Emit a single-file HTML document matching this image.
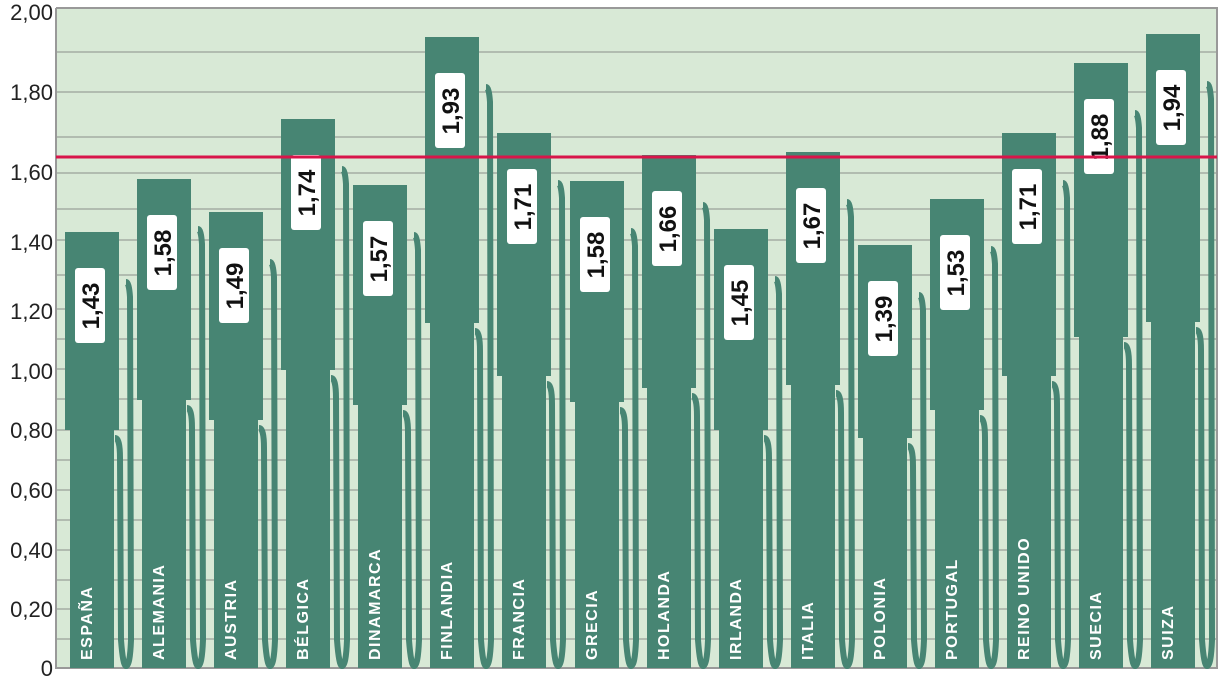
<!DOCTYPE html>
<html><head><meta charset="utf-8"><style>
html,body{margin:0;padding:0;background:#fff;}
svg{display:block;}
.ax{font:22px "Liberation Sans",sans-serif;fill:#222;}
.v{font:bold 24px "Liberation Sans",sans-serif;fill:#111;}
.n{font:bold 16px "Liberation Sans",sans-serif;fill:#fff;letter-spacing:1.5px;}
.c{stroke:#478573;stroke-width:6;fill:none;}
.b{fill:#478573;}
</style></head><body>
<svg width="1221" height="677" xmlns="http://www.w3.org/2000/svg">
<rect x="56" y="8" width="1161" height="660" fill="#d8e9d6"/>
<g stroke="#8a8f8a" stroke-width="1">
<line x1="56" x2="1217" y1="52" y2="52"/><line x1="56" x2="1217" y1="92" y2="92"/><line x1="56" x2="1217" y1="137" y2="137"/>
<line x1="56" x2="1217" y1="173" y2="173"/><line x1="56" x2="1217" y1="209" y2="209"/><line x1="56" x2="1217" y1="240" y2="240"/>
<line x1="56" x2="1217" y1="275" y2="275"/><line x1="56" x2="1217" y1="309" y2="309"/><line x1="56" x2="1217" y1="339" y2="339"/>
<line x1="56" x2="1217" y1="369" y2="369"/><line x1="56" x2="1217" y1="399" y2="399"/><line x1="56" x2="1217" y1="430" y2="430"/>
<line x1="56" x2="1217" y1="460" y2="460"/><line x1="56" x2="1217" y1="490" y2="490"/><line x1="56" x2="1217" y1="520" y2="520"/>
<line x1="56" x2="1217" y1="550" y2="550"/><line x1="56" x2="1217" y1="580" y2="580"/><line x1="56" x2="1217" y1="609" y2="609"/>
<line x1="56" x2="1217" y1="639" y2="639"/>
</g>
<path d="M56 8 V668 H1217 V8 H56" stroke="#999" stroke-width="2" fill="none"/>
<g text-anchor="end">
<text class="ax" x="53" y="20">2,00</text><text class="ax" x="53" y="100">1,80</text><text class="ax" x="53" y="180">1,60</text>
<text class="ax" x="53" y="250">1,40</text><text class="ax" x="53" y="319">1,20</text><text class="ax" x="53" y="379">1,00</text>
<text class="ax" x="53" y="438">0,80</text><text class="ax" x="53" y="498">0,60</text><text class="ax" x="53" y="558">0,40</text>
<text class="ax" x="53" y="617">0,20</text><text class="ax" x="53" y="676">0</text>
</g>

<g transform="translate(65,0)"><path class="c" d="M50 438 Q55 438 55 458 L56 640 Q58 666 61 666 Q65 666 66 640 L65 297 Q64 282 61 282"/><rect class="b" x="5" y="430" width="44" height="238"/><rect class="b" x="0" y="232" width="54" height="198"/><rect x="10" y="268" width="30" height="75" rx="3" fill="#fff"/><text class="v" text-anchor="middle" transform="translate(34,306) rotate(-90)">1,43</text><text class="n" transform="translate(27,660) rotate(-90)">ESPAÑA</text></g>

<g transform="translate(137,0)"><path class="c" d="M50 408 Q55 408 55 428 L56 640 Q58 666 61 666 Q65 666 66 640 L65 244 Q64 229 61 229"/><rect class="b" x="5" y="400" width="44" height="268"/><rect class="b" x="0" y="179" width="54" height="221"/><rect x="10" y="215" width="30" height="75" rx="3" fill="#fff"/><text class="v" text-anchor="middle" transform="translate(34,253) rotate(-90)">1,58</text><text class="n" transform="translate(27,660) rotate(-90)">ALEMANIA</text></g>

<g transform="translate(209,0)"><path class="c" d="M50 428 Q55 428 55 448 L56 640 Q58 666 61 666 Q65 666 66 640 L65 277 Q64 262 61 262"/><rect class="b" x="5" y="420" width="44" height="248"/><rect class="b" x="0" y="212" width="54" height="208"/><rect x="10" y="248" width="30" height="75" rx="3" fill="#fff"/><text class="v" text-anchor="middle" transform="translate(34,286) rotate(-90)">1,49</text><text class="n" transform="translate(27,660) rotate(-90)">AUSTRIA</text></g>

<g transform="translate(281,0)"><path class="c" d="M50 378 Q55 378 55 398 L56 640 Q58 666 61 666 Q65 666 66 640 L65 184 Q64 169 61 169"/><rect class="b" x="5" y="370" width="44" height="298"/><rect class="b" x="0" y="119" width="54" height="251"/><rect x="10" y="155" width="30" height="75" rx="3" fill="#fff"/><text class="v" text-anchor="middle" transform="translate(34,193) rotate(-90)">1,74</text><text class="n" transform="translate(27,660) rotate(-90)">BÉLGICA</text></g>

<g transform="translate(353,0)"><path class="c" d="M50 413 Q55 413 55 433 L56 640 Q58 666 61 666 Q65 666 66 640 L65 250 Q64 235 61 235"/><rect class="b" x="5" y="405" width="44" height="263"/><rect class="b" x="0" y="185" width="54" height="220"/><rect x="10" y="221" width="30" height="75" rx="3" fill="#fff"/><text class="v" text-anchor="middle" transform="translate(34,259) rotate(-90)">1,57</text><text class="n" transform="translate(27,660) rotate(-90)">DINAMARCA</text></g>

<g transform="translate(425,0)"><path class="c" d="M50 331 Q55 331 55 351 L56 640 Q58 666 61 666 Q65 666 66 640 L65 102 Q64 87 61 87"/><rect class="b" x="5" y="323" width="44" height="345"/><rect class="b" x="0" y="37" width="54" height="286"/><rect x="10" y="73" width="30" height="75" rx="3" fill="#fff"/><text class="v" text-anchor="middle" transform="translate(34,111) rotate(-90)">1,93</text><text class="n" transform="translate(27,660) rotate(-90)">FINLANDIA</text></g>

<g transform="translate(497,0)"><path class="c" d="M50 384 Q55 384 55 404 L56 640 Q58 666 61 666 Q65 666 66 640 L65 198 Q64 183 61 183"/><rect class="b" x="5" y="376" width="44" height="292"/><rect class="b" x="0" y="133" width="54" height="243"/><rect x="10" y="169" width="30" height="75" rx="3" fill="#fff"/><text class="v" text-anchor="middle" transform="translate(34,207) rotate(-90)">1,71</text><text class="n" transform="translate(27,660) rotate(-90)">FRANCIA</text></g>

<g transform="translate(570,0)"><path class="c" d="M50 410 Q55 410 55 430 L56 640 Q58 666 61 666 Q65 666 66 640 L65 246 Q64 231 61 231"/><rect class="b" x="5" y="402" width="44" height="266"/><rect class="b" x="0" y="181" width="54" height="221"/><rect x="10" y="217" width="30" height="75" rx="3" fill="#fff"/><text class="v" text-anchor="middle" transform="translate(34,255) rotate(-90)">1,58</text><text class="n" transform="translate(27,660) rotate(-90)">GRECIA</text></g>

<g transform="translate(642,0)"><path class="c" d="M50 396 Q55 396 55 416 L56 640 Q58 666 61 666 Q65 666 66 640 L65 220 Q64 205 61 205"/><rect class="b" x="5" y="388" width="44" height="280"/><rect class="b" x="0" y="155" width="54" height="233"/><rect x="10" y="191" width="30" height="75" rx="3" fill="#fff"/><text class="v" text-anchor="middle" transform="translate(34,229) rotate(-90)">1,66</text><text class="n" transform="translate(27,660) rotate(-90)">HOLANDA</text></g>

<g transform="translate(714,0)"><path class="c" d="M50 438 Q55 438 55 458 L56 640 Q58 666 61 666 Q65 666 66 640 L65 294 Q64 279 61 279"/><rect class="b" x="5" y="430" width="44" height="238"/><rect class="b" x="0" y="229" width="54" height="201"/><rect x="10" y="265" width="30" height="75" rx="3" fill="#fff"/><text class="v" text-anchor="middle" transform="translate(34,303) rotate(-90)">1,45</text><text class="n" transform="translate(27,660) rotate(-90)">IRLANDA</text></g>

<g transform="translate(786,0)"><path class="c" d="M50 393 Q55 393 55 413 L56 640 Q58 666 61 666 Q65 666 66 640 L65 217 Q64 202 61 202"/><rect class="b" x="5" y="385" width="44" height="283"/><rect class="b" x="0" y="152" width="54" height="233"/><rect x="10" y="188" width="30" height="75" rx="3" fill="#fff"/><text class="v" text-anchor="middle" transform="translate(34,226) rotate(-90)">1,67</text><text class="n" transform="translate(27,660) rotate(-90)">ITALIA</text></g>

<g transform="translate(858,0)"><path class="c" d="M50 446 Q55 446 55 466 L56 640 Q58 666 61 666 Q65 666 66 640 L65 310 Q64 295 61 295"/><rect class="b" x="5" y="438" width="44" height="230"/><rect class="b" x="0" y="245" width="54" height="193"/><rect x="10" y="281" width="30" height="75" rx="3" fill="#fff"/><text class="v" text-anchor="middle" transform="translate(34,319) rotate(-90)">1,39</text><text class="n" transform="translate(27,660) rotate(-90)">POLONIA</text></g>

<g transform="translate(930,0)"><path class="c" d="M50 418 Q55 418 55 438 L56 640 Q58 666 61 666 Q65 666 66 640 L65 264 Q64 249 61 249"/><rect class="b" x="5" y="410" width="44" height="258"/><rect class="b" x="0" y="199" width="54" height="211"/><rect x="10" y="235" width="30" height="75" rx="3" fill="#fff"/><text class="v" text-anchor="middle" transform="translate(34,273) rotate(-90)">1,53</text><text class="n" transform="translate(27,660) rotate(-90)">PORTUGAL</text></g>

<g transform="translate(1002,0)"><path class="c" d="M50 384 Q55 384 55 404 L56 640 Q58 666 61 666 Q65 666 66 640 L65 198 Q64 183 61 183"/><rect class="b" x="5" y="376" width="44" height="292"/><rect class="b" x="0" y="133" width="54" height="243"/><rect x="10" y="169" width="30" height="75" rx="3" fill="#fff"/><text class="v" text-anchor="middle" transform="translate(34,207) rotate(-90)">1,71</text><text class="n" transform="translate(27,660) rotate(-90)">REINO UNIDO</text></g>

<g transform="translate(1074,0)"><path class="c" d="M50 345 Q55 345 55 365 L56 640 Q58 666 61 666 Q65 666 66 640 L65 128 Q64 113 61 113"/><rect class="b" x="5" y="337" width="44" height="331"/><rect class="b" x="0" y="63" width="54" height="274"/><rect x="10" y="99" width="30" height="75" rx="3" fill="#fff"/><text class="v" text-anchor="middle" transform="translate(34,137) rotate(-90)">1,88</text><text class="n" transform="translate(27,660) rotate(-90)">SUECIA</text></g>

<g transform="translate(1146,0)"><path class="c" d="M50 330 Q55 330 55 350 L56 640 Q58 666 61 666 Q65 666 66 640 L65 99 Q64 84 61 84"/><rect class="b" x="5" y="322" width="44" height="346"/><rect class="b" x="0" y="34" width="54" height="288"/><rect x="10" y="70" width="30" height="75" rx="3" fill="#fff"/><text class="v" text-anchor="middle" transform="translate(34,108) rotate(-90)">1,94</text><text class="n" transform="translate(27,660) rotate(-90)">SUIZA</text></g>

<line x1="56" x2="1217" y1="157" y2="157" stroke="#d8154a" stroke-width="3"/>
</svg>
</body></html>
